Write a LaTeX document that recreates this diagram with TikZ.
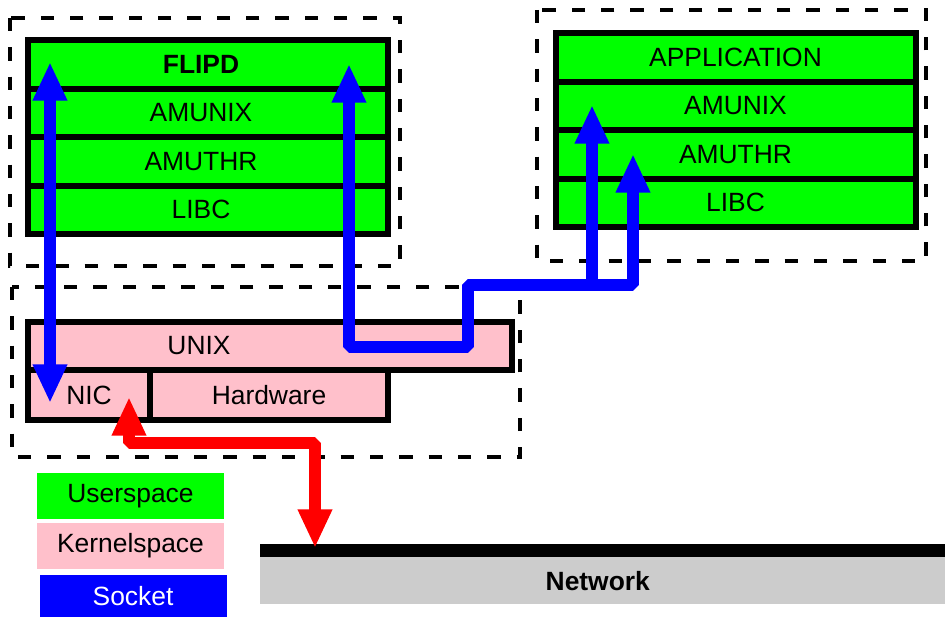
\documentclass[tikz,border=0pt]{standalone}
\usepackage{fontspec}
\setmainfont{Liberation Sans}
\usetikzlibrary{positioning,arrows.meta}
\definecolor{userGreen}{HTML}{00FF00}
\definecolor{kernelPink}{HTML}{FFC0CB}
\definecolor{socketBlue}{HTML}{0000FF}
\definecolor{netGray}{HTML}{CCCCCC}
\tikzset{
  Head/.tip={Triangle[length=29pt,width=24pt]},
  layer/.style={draw, line width=4.5pt, fill=userGreen, minimum width=270pt,
    minimum height=36.4pt, inner sep=0pt, outer sep=0pt,
    font=\fontsize{19.8}{24}\selectfont},
  leftlayer/.style={layer, execute at begin node={\hspace*{-10.5pt}}},
  kernel/.style={layer, fill=kernelPink},
  zone/.style={line width=2.5pt, dash pattern=on 10pt off 12pt},
  legendbox/.style={minimum width=140.25pt, minimum height=34.5pt, inner sep=0pt,
    font=\fontsize{19.8}{24}\selectfont},
  pipe/.style={line width=9pt, line join=bevel}
}
\begin{document}
\begin{tikzpicture}[x=0.75pt, y=-0.75pt]
    \useasboundingbox (0,0) rectangle (945,617);
    % userspace of the daemon
    \draw[zone] (10,18) rectangle (400,266);
    \node[leftlayer, font=\fontsize{19.8}{24}\selectfont\bfseries] (flipd) at (208,64.25) {FLIPD};
    \node[leftlayer, below=0pt of flipd] (amunixL) {AMUNIX};
    \node[leftlayer, below=0pt of amunixL] (amuthrL) {AMUTHR};
    \node[leftlayer, below=0pt of amuthrL] (libcL) {LIBC};
    % userspace of the application
    \draw[zone] (537,10) rectangle (926,261);
    \node[layer] (app) at (735.5,57.25) {APPLICATION};
    \node[layer, below=0pt of app] (amunixR) {AMUNIX};
    \node[layer, below=0pt of amunixR] (amuthrR) {AMUTHR};
    \node[layer, below=0pt of amuthrR] (libcR) {LIBC};
    % kernel
    \draw[zone] (12,287) rectangle (520,457);
    \node[kernel, minimum width=363pt, minimum height=36pt] (unix) at (270,346) {\hspace*{-106.5pt}UNIX};
    \node[kernel, minimum width=91.5pt, minimum height=37.5pt, anchor=north west] (nic) at (unix.south west) {NIC};
    \node[kernel, minimum width=178.5pt, minimum height=37.5pt, anchor=north west] (hw) at (nic.north east) {Hardware};
    % legend
    \node[legendbox, fill=userGreen] (userspace) at (130.5,496) {Userspace};
    \node[legendbox, fill=kernelPink] (kernelspace) at (130.5,546) {Kernelspace};
    \node[legendbox, fill=socketBlue, text=white, minimum height=31.5pt] (socket) at (133,596) {Socket};
    % network
    \node[fill=netGray, minimum width=513.75pt, minimum height=35.25pt, inner sep=0pt, anchor=north west,
      font=\fontsize{19.8}{24}\selectfont\bfseries] (network) at (260,557) {\hspace*{-7.5pt}Network};
    \node[fill=black, minimum width=513.75pt, minimum height=9.75pt, inner sep=0pt, anchor=south west] (netbar) at (network.north west) {};
    % sockets and wire
    \coordinate (flipdIn) at (50,62);
    \coordinate (nicIn) at (50,403);
    \coordinate (flipdOut) at (349,64);
    \coordinate (amunixIn) at (592,105);
    \coordinate (amuthrIn) at (633,154);
    \coordinate (fork) at (592,285);
    \coordinate (nicOut) at (129,397);
    \coordinate (netIn) at (315,548);
    \draw[pipe, socketBlue, Head-Head] (flipdIn) -- (nicIn);
    \draw[pipe, socketBlue, Head-Head] (flipdOut) -- (349,347) -- (468,347) -- (468,285) -- (633,285) -- (amuthrIn);
    \draw[pipe, socketBlue, -Head] (fork) -- (amunixIn);
    \draw[pipe, red, Head-Head] (nicOut) -- (129,443) -- (315,443) -- (netIn);
  \end{tikzpicture}
\end{document}
